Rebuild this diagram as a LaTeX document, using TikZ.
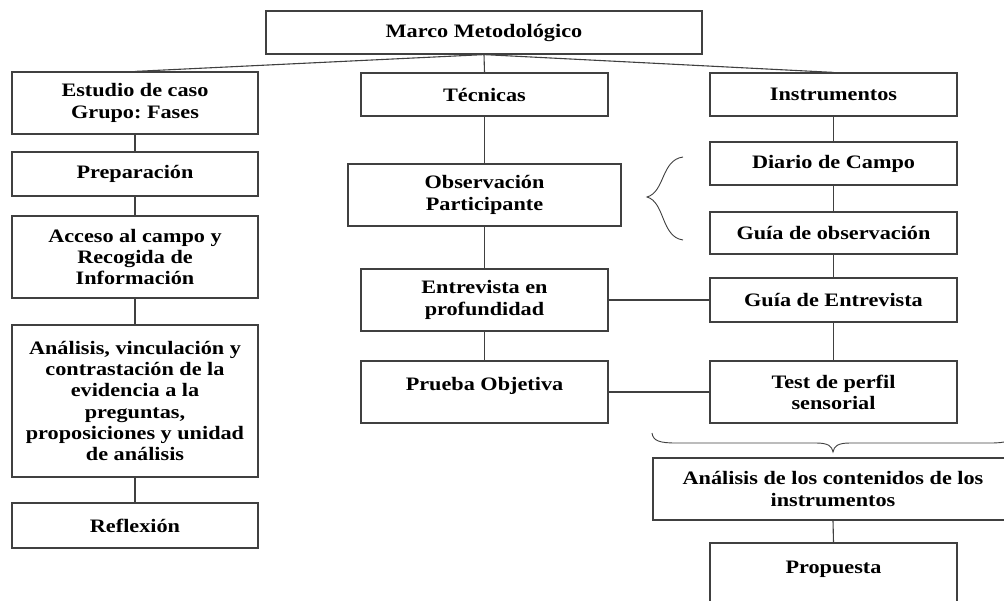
\documentclass[tikz,border=0pt]{standalone}
\usepackage{fontspec}
\setmainfont[FakeStretch=1.17]{Liberation Serif}
\usepackage{tikz}
\definecolor{linegray}{rgb}{0.25,0.25,0.25}
\frenchspacing

\begin{document}
\begin{tikzpicture}[
  x=1pt, y=-1pt,
  box/.style={draw=linegray, line width=1.2pt, align=center, inner sep=0pt,
    font={\fontsize{19}{21.2}\selectfont\bfseries}},
  colbox/.style={box, minimum width=247pt},
  link/.style={draw=linegray, line width=1.1pt},
  ]
  \useasboundingbox (0,0) rectangle (1004,600);
  \clip (0,0) rectangle (1004,600);

  % Top
  \node[box, minimum width=436pt, minimum height=43pt] (marco) at (484,32.5) {Marco Metodológico};

  % Left column: phases
  \node[colbox, minimum width=246pt, minimum height=62pt] (estudio) at (135,103) {Estudio de caso\\Grupo: Fases};
  \node[colbox, minimum width=246pt, minimum height=44pt] (prep) at (135,174) {Preparación};
  \node[colbox, minimum width=246pt, minimum height=82pt] (acceso) at (135,257) {Acceso al campo y\\Recogida de\\Información};
  \node[colbox, minimum width=246pt, minimum height=152pt] (analisis) at (135,401) {Análisis, vinculación y\\contrastación de la\\evidencia a la\\preguntas,\\proposiciones y unidad\\de análisis};
  \node[colbox, minimum width=246pt, minimum height=45pt] (reflexion) at (135,525.5) {Reflexión};

  % Middle column: techniques
  \node[colbox, minimum height=43pt] (tecnicas) at (484.5,94.5) {Técnicas};
  \node[box, minimum width=273pt, minimum height=62pt] (observacion) at (484.5,195) {Observación\\Participante};
  \node[colbox, minimum height=62pt] (entrevista) at (484.5,300) {Entrevista en\\profundidad};
  \node[colbox, minimum height=62pt, text height=12.9pt, text depth=16.7pt] (prueba) at (484.5,392) {Prueba Objetiva};

  % Right column: instruments
  \node[colbox, minimum height=43pt] (instrumentos) at (833.5,94.5) {Instrumentos};
  \node[colbox, minimum height=43pt] (diario) at (833.5,163.5) {Diario de Campo};
  \node[colbox, minimum height=42pt] (guiaobs) at (833.5,233) {Guía de observación};
  \node[colbox, minimum height=44pt] (guiaent) at (833.5,300) {Guía de Entrevista};
  \node[colbox, minimum height=62pt] (test) at (833.5,392) {Test de perfil\\sensorial};
  \node[box, minimum width=360pt, minimum height=62pt] (contenidos) at (833,489) {Análisis de los contenidos de los\\instrumentos};
  \node[colbox, minimum height=69pt, text height=12.9pt, text depth=21.7pt] (propuesta) at (833.5,577.5) {Propuesta};

  % Connectors
  \draw[link] (marco.south) -- (tecnicas.north);
  \draw[link] (marco.south) -- (estudio.north);
  \draw[link] (marco.south) -- (instrumentos.north);
  \foreach \a/\b in {estudio/prep, prep/acceso, acceso/analisis, analisis/reflexion,
      tecnicas/observacion, observacion/entrevista, entrevista/prueba,
      instrumentos/diario, diario/guiaobs, guiaobs/guiaent, guiaent/test,
      contenidos/propuesta} {
    \draw[link] (\a.south) -- (\b.north);
  }
  \draw[link] (entrevista.east) -- (guiaent.west);
  \draw[link] (prueba.east) -- (test.west);

  % Braces
  \draw[linegray, line width=0.9pt] (683,157) .. controls (661,160) and (665,192) .. (647,197)
    .. controls (665,202) and (661,237) .. (683,240);
  \draw[linegray, line width=0.9pt] (652,433) .. controls (653,441) and (660,443) .. (676,443)
    -- (816,443) .. controls (828,443) and (832,446) .. (833,452)
    .. controls (834,446) and (838,443) .. (850,443) -- (990,443)
    .. controls (1006,443) and (1013,441) .. (1014,433);
\end{tikzpicture}
\end{document}
